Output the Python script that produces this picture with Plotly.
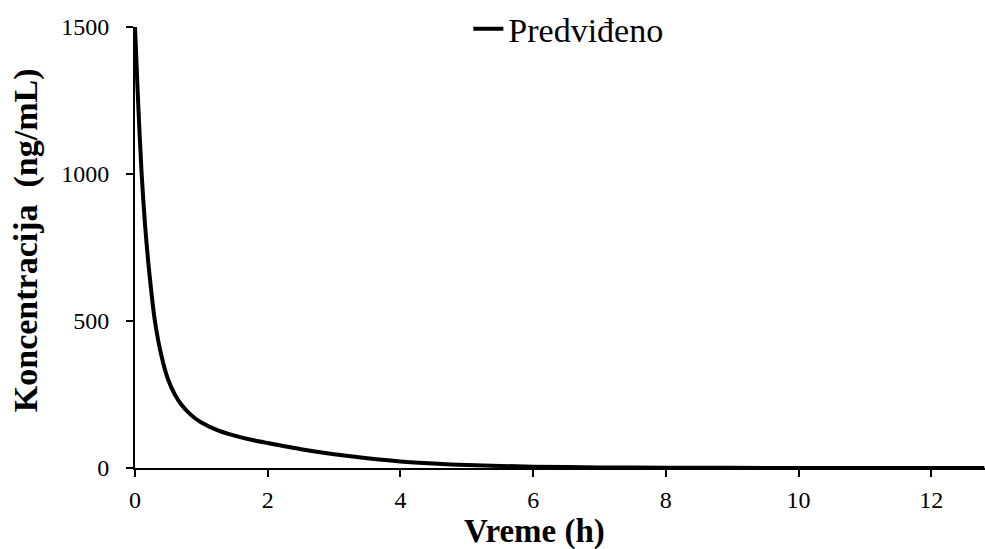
import plotly.graph_objects as go

# vrednosti očitane sa grafika
vreme = [0, 0.02, 0.05, 0.1, 0.15, 0.2, 0.3, 0.4, 0.5, 0.6, 0.7, 0.8, 0.9, 1.0, 1.25, 1.5, 1.75,
         2.0, 2.5, 3.0, 3.5, 4.0, 4.5, 5.0, 6.0, 7.0, 8.0, 9.0, 10.0, 11.0, 12.8]
koncentracija = [1500, 1390, 1230, 1000, 830, 700, 500, 380, 300, 250, 215, 190, 170, 155, 128, 110, 96,
                 85, 64, 47, 33, 22, 15, 10, 4.5, 2, 1, 0.5, 0.2, 0.1, 0]

x_ticks = [0, 2, 4, 6, 8, 10, 12]
y_ticks = [0, 500, 1000, 1500]

font = "Liberation Serif"

fig = go.Figure()
fig.add_trace(go.Scatter(x = vreme, y = koncentracija, mode = "lines", name = "Predviđeno",
                         line = dict(color = "black", width = 4, shape = "spline", smoothing = 0.6)))

fig.update_layout(width = 985, height = 549, plot_bgcolor = "white", paper_bgcolor = "white",
                  margin = dict(l = 135, r = 0, t = 27, b = 81, autoexpand = False),
                  font = dict(family = font, color = "black"),
                  showlegend = True,
                  legend = dict(xref = "container", yref = "container", x = 0.577, xanchor = "center",
                                y = 0.947, yanchor = "middle",
                                bgcolor = "rgba(0,0,0,0)", font = dict(size = 34, family = font)))

fig.update_xaxes(range = [0, 12.81], tickvals = x_ticks, showgrid = False, zeroline = False,
                 showline = True, linecolor = "black", linewidth = 2, ticks = "outside",
                 ticklen = 7, tickwidth = 2, tickcolor = "black", tickfont = dict(size = 24),
                 ticklabelstandoff = 2)
fig.update_yaxes(range = [0, 1500], tickvals = y_ticks, showgrid = False, zeroline = False,
                 showline = True, linecolor = "black", linewidth = 2, ticks = "outside",
                 ticklen = 7, tickwidth = 2, tickcolor = "black", tickfont = dict(size = 24),
                 ticklabelstandoff = 12)

fig.add_annotation(text = "<b>Vreme (h)</b>", xref = "paper", yref = "paper", x = 0.47, y = -0.145,
                   xanchor = "center", yanchor = "middle", showarrow = False, font = dict(size = 33, family = font))
fig.add_annotation(text = "<b>Koncentracija  (ng/mL)</b>", xref = "paper", yref = "paper", x = -0.128, y = 0.517,
                   xanchor = "center", yanchor = "middle", textangle = -90, showarrow = False,
                   font = dict(size = 34, family = font))

# bez margina stranice, da figura popuni ceo prozor
fig.write_html("out.html", config = {"displayModeBar": False},
               post_script = "document.body.style.margin = '0'; document.body.style.overflow = 'hidden';")
